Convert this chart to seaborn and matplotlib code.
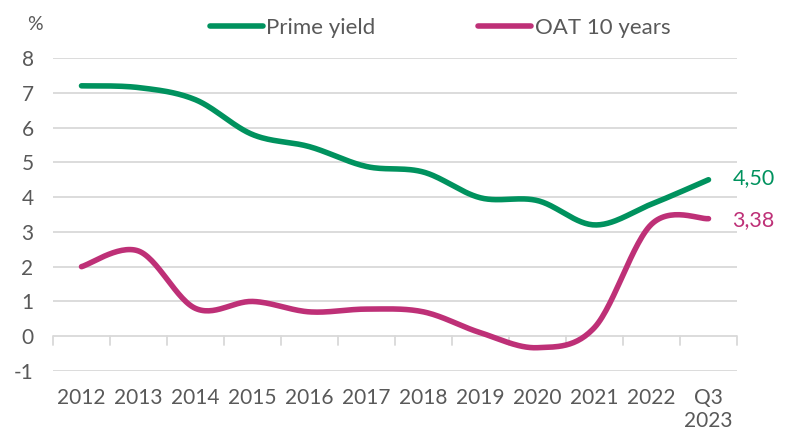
import numpy as np
import pandas as pd
import matplotlib
matplotlib.use("Agg")
import matplotlib.pyplot as plt
import seaborn as sns
from matplotlib.lines import Line2D

categories = ["2012", "2013", "2014", "2015", "2016", "2017", "2018", "2019",
              "2020", "2021", "2022", "Q3\n2023"]
prime_yield = [7.20, 7.15, 6.80, 5.80, 5.45, 4.88, 4.72, 3.98, 3.90, 3.20, 3.80, 4.50]
oat_10y = [2.00, 2.45, 0.80, 1.00, 0.70, 0.78, 0.70, 0.10, -0.33, 0.25, 3.22, 3.38]
end_labels = ["4,50", "3,38"]
series_names = ["Prime yield", "OAT 10 years"]
yticks = [-1, 0, 1, 2, 3, 4, 5, 6, 7, 8]

GREEN = "#00925E"
MAGENTA = "#BE3077"
GRAY = "#595959"


def smooth(y, n=30):
    # Catmull-Rom smoothing like spreadsheet "smoothed line"
    y = np.asarray(y, float)
    x = np.arange(len(y), dtype=float)
    P = np.vstack([x, y]).T
    P = np.vstack([P[0], P, P[-1]])
    out = []
    for i in range(1, len(P) - 2):
        p0, p1, p2, p3 = P[i - 1], P[i], P[i + 1], P[i + 2]
        t = np.linspace(0, 1, n, endpoint=False)[:, None]
        pts = 0.5 * ((2 * p1) + (-p0 + p2) * t + (2 * p0 - 5 * p1 + 4 * p2 - p3) * t ** 2
                     + (-p0 + 3 * p1 - 3 * p2 + p3) * t ** 3)
        out.append(pts)
    out.append(P[-2][None, :])
    out = np.vstack(out)
    return out[:, 0], out[:, 1]


frames = []
for name, vals in zip(series_names, [prime_yield, oat_10y]):
    xs, ys = smooth(vals)
    frames.append(pd.DataFrame({"x": xs, "y": ys, "series": name}))
df = pd.concat(frames, ignore_index=True)

sns.set_theme(style="white")
plt.rcParams["font.family"] = ["Lato", "DejaVu Sans"]

fig = plt.figure(figsize=(7.87, 4.36), dpi=100)
ax = fig.add_axes([53 / 787, 1 - 371 / 436, (737 - 53) / 787, (371 - 58) / 436])

sns.lineplot(data=df, x="x", y="y", hue="series", palette=[GREEN, MAGENTA],
             linewidth=4, ax=ax, legend=False, sort=False, estimator=None,
             solid_capstyle="round")

ax.set_xlim(-0.5, len(categories) - 0.5)
ax.set_ylim(-1, 8)
ax.set_yticks(yticks)
ax.set_yticklabels([str(v) for v in yticks])
ax.set_xticks(range(len(categories)))
ax.set_xticklabels(categories)
ax.set_xlabel("")
ax.set_ylabel("")
for v in yticks:
    ax.axhline(v, color="#D9D9D9", lw=1.3, zorder=0)
for s in ax.spines.values():
    s.set_visible(False)
ax.tick_params(axis="both", length=0, labelsize=15, labelcolor=GRAY, pad=6)
ax.tick_params(axis="x", pad=12)
ax.tick_params(axis="y", pad=14)
for lbl in ax.get_yticklabels():
    lbl.set_horizontalalignment("right")
# category boundary tick marks below zero line
for b in np.arange(-0.5, len(categories), 1.0):
    ax.plot([b, b], [0, -0.25], color="#D9D9D9", lw=1.3, zorder=0, clip_on=False)

# end labels
ax.text(len(categories) - 1 + 0.42, prime_yield[-1] + 0.05, end_labels[0], color=GREEN,
        fontsize=15.5, va="center", ha="left")
ax.text(len(categories) - 1 + 0.42, oat_10y[-1] - 0.05, end_labels[1], color=MAGENTA,
        fontsize=15.5, va="center", ha="left")

# legend
handles = [Line2D([0], [0], color=GREEN, lw=4, solid_capstyle="round"),
           Line2D([0], [0], color=MAGENTA, lw=4, solid_capstyle="round")]
fig.legend(handles, series_names, loc="center", bbox_to_anchor=(440 / 787, 1 - 28 / 436),
           ncol=2, frameon=False, fontsize=16, labelcolor=GRAY, handlelength=2.4,
           handletextpad=0.15, columnspacing=4.6)

fig.text(35 / 787, 1 - 24 / 436, "%", color=GRAY, fontsize=14, ha="center", va="center")

fig.savefig("out.png", dpi=100)
